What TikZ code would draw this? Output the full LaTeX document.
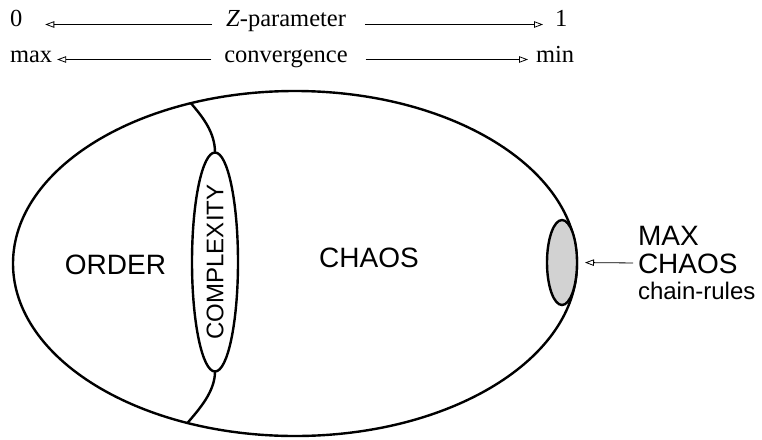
\documentclass[tikz,border=0pt]{standalone}
\usepackage{fontspec}
\setmainfont{Liberation Serif}
\setsansfont{Liberation Sans}
\usetikzlibrary{shapes.geometric,arrows.meta}

\begin{document}
\begin{tikzpicture}[x=1pt, y=-1pt, line width=2.4pt,
    toptext/.style={font=\fontsize{24.5}{28}\selectfont, inner sep=0pt, outer sep=0pt, text height=0.7em, text depth=0.2em},
    region/.style={font=\sffamily\fontsize{28}{28}\selectfont, inner sep=0pt, outer sep=0pt},
    oval/.style={ellipse, draw, inner sep=0pt, outer sep=0pt},
    thinarrow/.style={line width=0.8pt, -{Triangle[open, length=9pt, width=6.5pt]}}]
    \useasboundingbox (0,0) rectangle (762,439);
    \node[toptext, anchor=base west] (zero) at (10,27) {0};
    \node[toptext, anchor=base] (zpar) at (286,27) {\textit{Z}-parameter};
    \node[toptext, anchor=base west] (one) at (555,27) {1};
    \node[toptext, anchor=base west] (maxl) at (10,62) {max};
    \node[toptext, anchor=base] (conv) at (286,62) {convergence};
    \node[toptext, anchor=base west] (minr) at (536,62) {min};
    \draw[thinarrow, shorten <=14pt, shorten >=23pt] (zpar.west) -- (zero.east);
    \draw[thinarrow, shorten <=19pt, shorten >=12pt] (zpar.east) -- (one.west);
    \draw[thinarrow, shorten <=13pt, shorten >=5pt] (conv.west) -- (maxl.east);
    \draw[thinarrow, shorten <=18pt, shorten >=8pt] (conv.east) -- (minr.west);
    \node[oval, minimum width=564, minimum height=345] (world) at (295,263.5) {};
    \node[oval, minimum width=219, minimum height=46, rotate=90, font=\sffamily\fontsize{24}{24}\selectfont] (cplx) at (215,262) {COMPLEXITY};
    \node[oval, fill=gray!35, minimum width=30, minimum height=85] (maxc) at (562,262.5) {};
    \node[region] (order) at (115.5,265) {ORDER};
    \node[region] (chaos) at (369,257.5) {CHAOS};
    \node[region, anchor=west, align=left] (maxtxt) at (638,263) {MAX\\CHAOS\\[-2pt]{\fontsize{24}{24}\selectfont chain-rules}};
    \draw (world.123) .. controls +(12,14) and +(0,-20) .. (cplx.east);
    \draw (world.-124) .. controls +(12,-14) and +(0,20) .. (cplx.west);
    \draw[thinarrow, shorten <=5pt, shorten >=8pt] (maxtxt.west) -- (maxc.east);
\end{tikzpicture}
\end{document}
